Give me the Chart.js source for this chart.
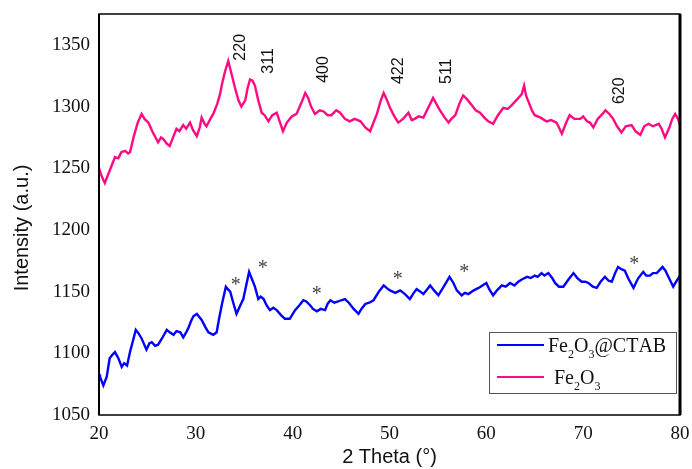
<!DOCTYPE html>
<html>
<head>
<meta charset="utf-8">
<script src="https://cdn.jsdelivr.net/npm/chart.js@4"></script>
<style>
html,body{margin:0;padding:0;background:#fff;}
#wrap{width:692px;height:469px;position:relative;}
</style>
</head>
<body>
<div id="wrap"><canvas id="c" width="692" height="469"></canvas></div>
<script>
// ---- data ----
const seriesLabels = ['Fe2O3@CTAB', 'Fe2O3'];
const seriesColors = ['#0000ff', '#ff0a82'];
const xTitle = '2 Theta (\u00b0)';
const yTitle = 'Intensity (a.u.)';
const xTicks = [20, 30, 40, 50, 60, 70, 80];
const yTicks = [1050, 1100, 1150, 1200, 1250, 1300, 1350];

const ctabPoints = [
[20.0,1083],[20.1,1081],[20.45,1074],[20.8,1081],[21.1,1096],[21.4,1099],[21.65,1101],[22.0,1096],[22.35,1089],[22.6,1092],
[22.9,1090],[23.2,1101],[23.5,1110],[23.8,1119],[24.1,1116],[24.4,1112],[24.9,1103],[25.2,1108],[25.45,1109],[25.8,1106],
[26.1,1107],[26.5,1112],[27.0,1119],[27.3,1117],[27.7,1115],[28.0,1118],[28.4,1117],[28.7,1113],[29.0,1117],[29.2,1120],
[29.5,1126],[29.75,1130],[30.1,1132],[30.3,1130],[30.6,1127],[31.0,1121],[31.3,1117],[31.8,1115],[32.15,1117],[32.4,1128],
[32.7,1140],[33.1,1154],[33.3,1152],[33.55,1150],[33.9,1140],[34.2,1132],[34.6,1139],[34.9,1144],[35.2,1155],[35.5,1166],
[35.8,1160],[36.1,1154],[36.45,1144],[36.7,1146],[37.0,1144],[37.3,1139],[37.65,1135],[38.0,1137],[38.35,1135],[38.8,1131],
[39.2,1128],[39.7,1128],[40.25,1135],[40.7,1139],[41.1,1143],[41.4,1142],[41.8,1139],[42.1,1136],[42.5,1134],[42.9,1136],
[43.35,1135],[43.6,1140],[43.9,1143],[44.3,1141],[44.7,1142],[45.0,1143],[45.4,1144],[45.8,1141],[46.3,1136],[46.8,1132],
[47.1,1136],[47.5,1140],[47.9,1141],[48.35,1143],[48.9,1150],[49.4,1155],[49.7,1153],[50.05,1151],[50.6,1149],[51.1,1151],
[51.6,1148],[52.1,1144],[52.5,1149],[52.8,1152],[53.2,1150],[53.5,1148],[53.9,1152],[54.2,1155],[54.6,1151],[55.05,1147],
[55.6,1154],[56.2,1162],[56.6,1157],[56.95,1151],[57.45,1147],[57.8,1149],[58.15,1148],[58.7,1151],[59.2,1153],[59.6,1155],
[60.0,1157],[60.3,1152],[60.7,1147],[61.1,1151],[61.6,1155],[62.0,1154],[62.45,1157],[62.9,1155],[63.3,1158],[63.7,1160],
[64.2,1162],[64.6,1161],[65.0,1163],[65.3,1162],[65.7,1165],[66.0,1163],[66.4,1165],[66.8,1161],[67.1,1157],[67.5,1154],
[67.95,1154],[68.5,1160],[69.0,1165],[69.4,1161],[69.85,1158],[70.2,1158],[70.55,1157],[71.0,1154],[71.4,1153],[71.8,1158],
[72.25,1162],[72.6,1159],[72.95,1158],[73.3,1165],[73.6,1170],[74.0,1168],[74.3,1167],[74.7,1160],[75.2,1153],[75.5,1158],
[75.7,1161],[76.2,1166],[76.5,1163],[76.9,1163],[77.2,1165],[77.6,1165],[78.2,1170],[78.5,1167],[78.8,1162],[79.3,1154],
[79.6,1158],[80.0,1163]
];

const fe2o3Points = [
[20.0,1250],[20.3,1243],[20.6,1238],[20.9,1244],[21.2,1250],[21.65,1259],[22.0,1258],[22.3,1263],[22.7,1264],[23.0,1262],
[23.2,1263],[23.6,1276],[24.0,1287],[24.4,1294],[24.7,1290],[25.1,1287],[25.5,1280],[26.1,1271],[26.4,1275],[26.6,1274],
[27.0,1270],[27.3,1268],[27.6,1274],[28.0,1282],[28.3,1280],[28.7,1285],[29.0,1282],[29.4,1287],[29.7,1281],[30.1,1276],
[30.4,1283],[30.6,1291],[30.9,1286],[31.1,1284],[31.5,1290],[31.8,1294],[32.2,1302],[32.5,1310],[32.7,1318],[33.0,1328],
[33.35,1337],[33.7,1326],[34.05,1315],[34.4,1305],[34.7,1300],[35.1,1305],[35.35,1315],[35.6,1322],[35.85,1321],[36.1,1317],
[36.45,1305],[36.8,1295],[37.1,1293],[37.5,1288],[37.9,1293],[38.35,1295],[38.7,1287],[39.0,1280],[39.4,1287],[39.9,1292],
[40.4,1294],[40.9,1303],[41.3,1311],[41.6,1307],[41.9,1300],[42.3,1294],[42.8,1297],[43.2,1296],[43.6,1293],[44.0,1293],
[44.5,1297],[44.9,1295],[45.4,1290],[45.9,1288],[46.4,1290],[47.0,1288],[47.5,1283],[48.0,1280],[48.3,1286],[48.7,1294],
[49.1,1305],[49.4,1311],[49.7,1306],[50.05,1299],[50.5,1292],[50.9,1287],[51.4,1290],[51.95,1295],[52.3,1289],[52.6,1290],
[53.0,1292],[53.5,1291],[54.0,1299],[54.5,1307],[54.85,1302],[55.2,1297],[55.7,1291],[56.1,1287],[56.4,1290],[56.8,1293],
[57.2,1302],[57.6,1309],[58.0,1306],[58.5,1301],[58.9,1297],[59.35,1295],[59.8,1291],[60.2,1288],[60.7,1286],[61.2,1293],
[61.75,1299],[62.2,1298],[62.6,1301],[63.2,1306],[63.65,1310],[63.9,1317],[64.1,1309],[64.3,1305],[64.7,1297],[65.0,1293],
[65.6,1291],[66.2,1288],[66.7,1289],[67.25,1287],[67.5,1283],[67.8,1278],[68.2,1286],[68.6,1293],[69.1,1290],[69.7,1290],
[70.0,1292],[70.4,1288],[70.7,1287],[71.05,1283],[71.5,1290],[72.0,1294],[72.3,1297],[72.7,1294],[73.1,1290],[73.5,1284],
[73.95,1279],[74.4,1284],[75.0,1285],[75.4,1280],[75.9,1277],[76.3,1284],[76.75,1286],[77.2,1284],[77.8,1286],[78.1,1282],
[78.45,1275],[78.9,1283],[79.2,1290],[79.5,1294],[79.8,1290],[80.0,1285]
];

const peakLabels = ['220', '311', '400', '422', '511', '620'];
const peakDeg = [34.63, 37.5, 43.24, 50.98, 55.89, 73.8];
const peakVal = [1348, 1337, 1330, 1329, 1328.6, 1312.8];
const starDeg = [34.12, 36.9, 42.48, 50.85, 57.73, 75.28];
const starVal = [1158.6, 1172.1, 1151.6, 1163.8, 1169.1, 1175.9];

// ---- layout constants ----
const PLOT_LEFT = 99, PLOT_BOTTOM = 415;
const W = 692, H = 469;
const SERIF = '"Liberation Serif", "Times New Roman", serif';
const SANS = '"Liberation Sans", Arial, sans-serif';

function drawChem(ctx, text, x, y, size, color) {
  ctx.fillStyle = color;
  ctx.textAlign = 'left';
  ctx.textBaseline = 'alphabetic';
  let cx = x;
  for (const ch of text) {
    if (/[0-9]/.test(ch)) {
      ctx.font = Math.round(size * 0.6) + 'px ' + SERIF;
      ctx.fillText(ch, cx, y + size * 0.3);
    } else {
      ctx.font = size + 'px ' + SERIF;
      ctx.fillText(ch, cx, y);
    }
    cx += ctx.measureText(ch).width;
  }
}

const decor = {
  id: 'decor',
  afterDraw(chart) {
    const ctx = chart.ctx;
    const xs = chart.scales.x, ys = chart.scales.y;
    const a = chart.chartArea;
    ctx.save();
    ctx.strokeStyle = '#000';
    ctx.lineWidth = 1.5;
    ctx.strokeRect(a.left, a.top, a.right - a.left, a.bottom - a.top);
    ctx.lineWidth = 3;
    ctx.beginPath(); ctx.moveTo(a.right, a.top); ctx.lineTo(a.right, a.bottom); ctx.stroke();
    ctx.lineWidth = 2;
    ctx.beginPath(); ctx.moveTo(a.left, a.top); ctx.lineTo(a.left, a.bottom); ctx.stroke();

    ctx.fillStyle = '#111';
    ctx.font = '16px ' + SANS;
    ctx.textAlign = 'center';
    ctx.textBaseline = 'middle';
    peakLabels.forEach((t, i) => {
      const px = xs.getPixelForValue(peakDeg[i]);
      const py = ys.getPixelForValue(peakVal[i]);
      ctx.save();
      ctx.translate(px, py);
      ctx.rotate(-Math.PI / 2);
      ctx.fillText(t, 0, 0);
      ctx.restore();
    });

    ctx.fillStyle = '#444';
    ctx.font = '20px ' + SERIF;
    ctx.textAlign = 'center';
    ctx.textBaseline = 'alphabetic';
    const m = ctx.measureText('*');
    const off = (m.actualBoundingBoxAscent - m.actualBoundingBoxDescent) / 2;
    starDeg.forEach((d, i) => {
      ctx.fillText('*', xs.getPixelForValue(d), ys.getPixelForValue(starVal[i]) + off);
    });

    ctx.fillStyle = '#111';
    ctx.font = '20px ' + SANS;
    ctx.textAlign = 'center';
    ctx.textBaseline = 'middle';
    ctx.fillText(xTitle, (a.left + a.right) / 2, 457);
    ctx.save();
    ctx.translate(22, 228);
    ctx.rotate(-Math.PI / 2);
    ctx.fillText(yTitle, 0, 0);
    ctx.restore();

    const lx = 489, ly = 332, lw = 187, lh = 61;
    ctx.fillStyle = '#fff';
    ctx.fillRect(lx, ly, lw, lh);
    ctx.strokeStyle = '#555';
    ctx.lineWidth = 1;
    ctx.strokeRect(lx + 0.5, ly + 0.5, lw, lh);
    const rows = [{y: 345, tx: 548}, {y: 377, tx: 554}];
    chart.data.datasets.forEach((ds, i) => {
      const r = rows[i];
      ctx.strokeStyle = ds.borderColor;
      ctx.lineWidth = 2;
      ctx.beginPath(); ctx.moveTo(497, r.y); ctx.lineTo(544, r.y); ctx.stroke();
      drawChem(ctx, ds.label, r.tx, r.y + 7, 20, '#111');
    });
    ctx.restore();
  }
};

const toXY = pts => pts.map(p => ({x: p[0], y: p[1]}));

new Chart(document.getElementById('c'), {
  type: 'line',
  data: {
    datasets: [
      {label: seriesLabels[0], data: toXY(ctabPoints), borderColor: seriesColors[0], borderWidth: 2.4, pointRadius: 0, tension: 0, fill: false},
      {label: seriesLabels[1], data: toXY(fe2o3Points), borderColor: seriesColors[1], borderWidth: 2.4, pointRadius: 0, tension: 0, fill: false}
    ]
  },
  options: {
    responsive: false,
    animation: false,
    events: [],
    layout: {padding: {left: 0, right: 12, top: 14, bottom: 0}},
    plugins: {legend: {display: false}, tooltip: {enabled: false}, title: {display: false}},
    scales: {
      x: {
        type: 'linear', min: 20, max: 80,
        grid: {display: false, drawTicks: false},
        border: {display: false},
        afterBuildTicks: s => { s.ticks = xTicks.map(v => ({value: v})); },
        afterFit: s => { s.height = H - PLOT_BOTTOM; s.paddingLeft = 0; s.paddingRight = 0; },
        ticks: {color: '#111', font: {family: SERIF, size: 19}, padding: 8, maxRotation: 0, autoSkip: false, callback: v => String(v)}
      },
      y: {
        type: 'linear', min: 1050, max: 1375,
        grid: {display: false, drawTicks: false},
        border: {display: false},
        afterBuildTicks: s => { s.ticks = yTicks.map(v => ({value: v})); },
        afterFit: s => { s.width = PLOT_LEFT; s.paddingTop = 0; s.paddingBottom = 0; },
        ticks: {color: '#111', font: {family: SERIF, size: 19}, padding: 9, autoSkip: false, callback: v => String(v)}
      }
    }
  },
  plugins: [decor]
});
</script>
</body>
</html>
